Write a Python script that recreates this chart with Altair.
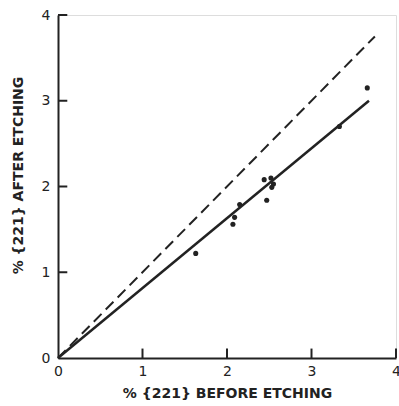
import altair as alt
import pandas as pd

# measured points
before = [1.63, 2.07, 2.09, 2.15, 2.44, 2.52, 2.55, 2.53, 2.47, 3.33, 3.66]
after = [1.22, 1.56, 1.64, 1.79, 2.08, 2.10, 2.03, 1.99, 1.84, 2.70, 3.15]

fit_x = [0.0, 3.68]
fit_y = [0.0, 3.00]
ident_x = [0.0, 3.75]
ident_y = [0.0, 3.75]

tick_vals = [1, 2, 3, 4]
tick_len = 0.11

ink = "#222222"
font = "DejaVu Sans"

pts = pd.DataFrame({"x": before, "y": after})
fit = pd.DataFrame({"x": fit_x, "y": fit_y})
ident = pd.DataFrame({"x": ident_x, "y": ident_y})
xt = pd.DataFrame({"v": tick_vals, "z": [0] * 4, "e": [tick_len] * 4})

xs = alt.Scale(domain=[0, 4], nice=False)
ys = alt.Scale(domain=[0, 4], nice=False)

xaxis = alt.Axis(values=[0, 1, 2, 3, 4], format="d", ticks=False, grid=False, domainWidth=2,
                 domainColor=ink, labelFont=font, labelFontSize=14,
                 labelColor=ink, labelPadding=6, titleFont=font, titleFontSize=14,
                 titleColor=ink, titlePadding=8,
                 title="% {221} BEFORE ETCHING", labelFlush=False)
yaxis = alt.Axis(values=[0, 1, 2, 3, 4], format="d", ticks=False, grid=False, domainWidth=2,
                 domainColor=ink, labelFont=font, labelFontSize=14,
                 labelColor=ink, labelPadding=8, titleFont=font, titleFontSize=14,
                 titleColor=ink, titleX=-40, titleY=160, titleBaseline="middle",
                 titleAlign="center", titleAngle=270,
                 title="% {221} AFTER ETCHING", labelFlush=False)

base_pts = alt.Chart(pts).mark_circle(size=26, color=ink, opacity=1).encode(
    x=alt.X("x:Q", scale=xs, axis=xaxis),
    y=alt.Y("y:Q", scale=ys, axis=yaxis),
)

fit_line = alt.Chart(fit).mark_line(color=ink, strokeWidth=2.5).encode(
    x=alt.X("x:Q", scale=xs), y=alt.Y("y:Q", scale=ys)
)
ident_line = alt.Chart(ident).mark_line(color=ink, strokeWidth=2, strokeDash=[11, 6]).encode(
    x=alt.X("x:Q", scale=xs), y=alt.Y("y:Q", scale=ys)
)

xticks = alt.Chart(xt).mark_rule(color=ink, strokeWidth=2).encode(
    x=alt.X("v:Q", scale=xs), y=alt.Y("z:Q", scale=ys), y2="e:Q"
)
yticks = alt.Chart(xt).mark_rule(color=ink, strokeWidth=2).encode(
    y=alt.Y("v:Q", scale=ys), x=alt.X("z:Q", scale=xs), x2="e:Q"
)

chart = alt.layer(base_pts, ident_line, fit_line, xticks, yticks).properties(
    width=338, height=343,
    autosize=alt.AutoSizeParams(type="none"),
    padding={"left": 58, "top": 15, "right": 3, "bottom": 48},
).configure_view(stroke=None).configure(background="white")

chart.save("out.html", embed_options={"renderer": "svg", "actions": False})
